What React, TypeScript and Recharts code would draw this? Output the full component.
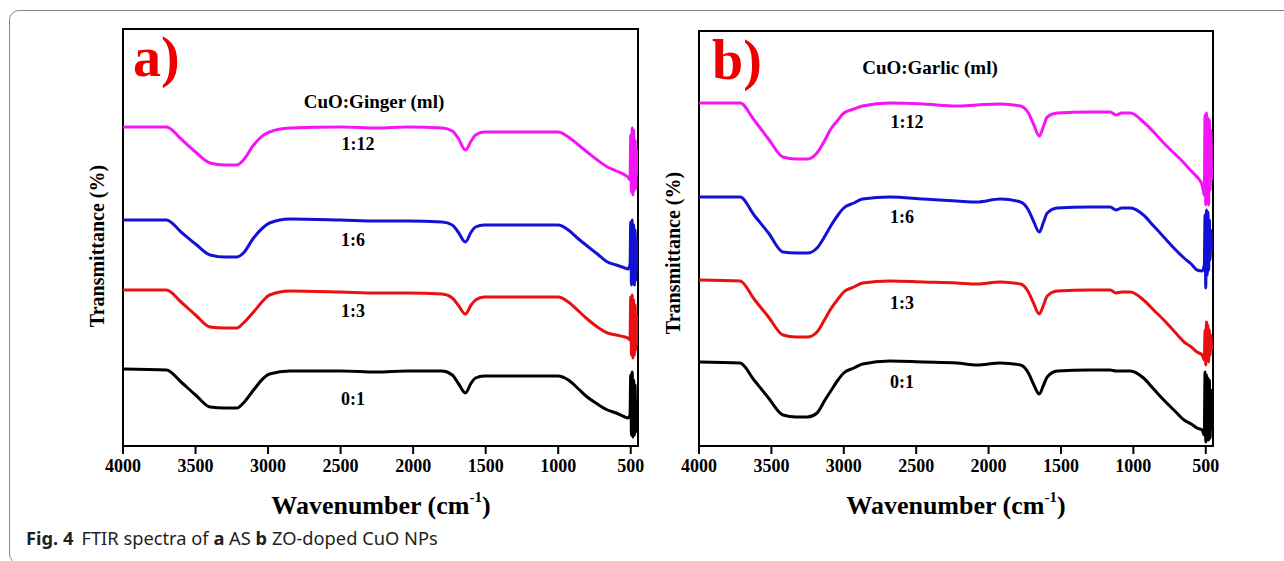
import { LineChart, Line, XAxis, YAxis, ReferenceArea } from 'recharts'

// a) CuO:Ginger — wavenumber grid (cm-1) and transmittance (arb. units, offset stacked)
const gingerWn = [4000, 3700, 3600, 3500, 3400, 3300, 3215, 3170, 3100, 3030, 2990, 2850, 2500, 2250, 2040, 1800, 1730, 1690, 1640, 1600, 1570, 1510, 1300, 1100, 1000, 930, 860, 800, 730, 660, 600, 540, 520, 505, 500, 495, 490, 485, 480, 475, 470, 465, 460, 455]
const ginger112 = [320, 320, 308, 295, 284, 282, 282, 287, 302, 312, 315, 319, 320, 319, 320, 319, 316, 309, 297, 306, 312, 315, 315, 315, 315, 310, 302, 295, 287, 280, 276, 272, 270, 267, 312, 255, 319, 252, 317, 257, 307, 259, 297, 272]
const ginger16 = [227, 227, 215, 203, 192, 190, 190, 194, 209, 220, 224, 228, 227, 226, 226, 225, 222, 215, 205, 215, 220, 222, 222, 222, 222, 217, 208, 201, 193, 185, 182, 179, 178, 182, 225, 162, 227, 164, 222, 162, 217, 167, 207, 177]
const ginger13 = [157, 157, 145, 132, 120, 119, 119, 124, 135, 147, 152, 156, 155, 154, 154, 153, 149, 142, 133, 142, 147, 150, 150, 150, 150, 145, 136, 128, 120, 114, 112, 110, 109, 107, 150, 92, 152, 89, 147, 92, 142, 97, 132, 102]
const ginger01 = [78, 77, 65, 52, 40, 39, 39, 44, 57, 69, 73, 76, 76, 75, 76, 76, 72, 64, 54, 64, 69, 71, 71, 71, 71, 67, 58, 50, 43, 37, 34, 30, 29, 32, 72, 12, 75, 10, 67, 12, 62, 15, 47, 22]

// b) CuO:Garlic
const garlicWn = [4000, 3716, 3620, 3520, 3420, 3330, 3250, 3185, 3130, 3090, 3040, 3000, 2930, 2870, 2680, 2450, 2220, 2080, 1920, 1780, 1725, 1690, 1650, 1620, 1595, 1525, 1300, 1160, 1120, 1080, 1020, 930, 860, 790, 720, 650, 600, 560, 525, 510, 505, 500, 495, 490, 485, 480, 475, 470, 465, 460]
const garlic112 = [343, 343, 326, 307, 289, 287, 287, 293, 306, 317, 326, 333, 337, 340, 343, 342, 340, 341, 342, 340, 333, 322, 310, 320, 329, 333, 334, 334, 331, 333, 333, 324, 314, 303, 293, 283, 275, 269, 261, 251, 331, 241, 333, 246, 328, 241, 326, 256, 316, 266]
const garlic16 = [249, 249, 231, 213, 194, 193, 193, 198, 210, 220, 231, 238, 243, 247, 249, 247, 245, 244, 247, 244, 236, 225, 214, 224, 233, 238, 239, 239, 236, 238, 238, 231, 220, 209, 198, 188, 182, 176, 175, 181, 231, 158, 236, 171, 234, 176, 226, 186, 216, 196]
const garlic13 = [166, 165, 147, 129, 111, 109, 109, 114, 127, 137, 147, 154, 159, 163, 165, 164, 163, 162, 164, 162, 154, 143, 132, 141, 150, 155, 156, 156, 153, 154, 154, 146, 136, 126, 115, 104, 99, 94, 91, 86, 116, 81, 124, 86, 121, 84, 116, 91, 111, 96]
const garlic01 = [84, 83, 66, 48, 31, 29, 29, 33, 46, 55, 66, 73, 78, 82, 85, 84, 83, 81, 83, 81, 73, 62, 52, 61, 69, 75, 76, 76, 75, 75, 75, 68, 57, 46, 36, 26, 22, 18, 16, 11, 74, 4, 71, 6, 68, 6, 66, 8, 56, 16]

const xTicks = [4000, 3500, 3000, 2500, 2000, 1500, 1000, 500]
const xDomain: [number, number] = [450, 4000]

const toRows = (wn: number[], a: number[], b: number[], c: number[], d: number[]) =>
  wn.map((w, i) => ({ w, s112: a[i], s16: b[i], s13: c[i], s01: d[i] }))

const gingerRows = toRows(gingerWn, ginger112, ginger16, ginger13, ginger01)
const garlicRows = toRows(garlicWn, garlic112, garlic16, garlic13, garlic01)

const serif = '"Liberation Serif", "Times New Roman", serif'
const frame = { stroke: '#000', strokeWidth: 2 }

interface PanelProps {
  rows: any[]
  yDomain: [number, number]
  left: number
  width: number
  margin: { top: number; right: number; bottom: number; left: number }
}

function Panel({ rows, yDomain, left, width, margin }: PanelProps) {
  return (
    <div style={{ position: 'absolute', left, top: 0 }}>
      <LineChart width={width} height={561} data={rows} margin={margin}>
        <XAxis
          dataKey="w"
          type="number"
          domain={xDomain}
          reversed
          allowDataOverflow
          ticks={xTicks}
          interval={0}
          tick={{ fontFamily: serif, fontWeight: 700, fontSize: 18, fill: '#000' }}
          tickSize={8}
          tickMargin={5}
          tickLine={frame}
          axisLine={frame}
          height={30}
        />
        <YAxis type="number" domain={yDomain} allowDataOverflow tick={false} tickLine={false} axisLine={frame} width={0} />
        <ReferenceArea x1={xDomain[0]} x2={xDomain[1]} y1={yDomain[0]} y2={yDomain[1]}
          fill="none" fillOpacity={0} stroke="#000" strokeWidth={2} ifOverflow="visible" />
        <Line type="monotone" dataKey="s112" stroke="#f514f5" strokeWidth={3} dot={false} isAnimationActive={false} />
        <Line type="monotone" dataKey="s16" stroke="#1212d6" strokeWidth={3} dot={false} isAnimationActive={false} />
        <Line type="monotone" dataKey="s13" stroke="#e81010" strokeWidth={3} dot={false} isAnimationActive={false} />
        <Line type="monotone" dataKey="s01" stroke="#000" strokeWidth={3} dot={false} isAnimationActive={false} />
      </LineChart>
    </div>
  )
}

function XTitle({ cx }: { cx: number }) {
  return (
    <text x={cx} y={514} textAnchor="middle" fontFamily={serif} fontWeight={700} fontSize={26} fill="#000">
      Wavenumber (cm<tspan fontSize={15} dy={-12}>-1</tspan><tspan dy={12}>)</tspan>
    </text>
  )
}

function YTitle({ cx, cy }: { cx: number; cy: number }) {
  return (
    <text x={cx} y={cy} transform={`rotate(-90 ${cx} ${cy})`} textAnchor="middle" dominantBaseline="central"
      fontFamily={serif} fontWeight={700} fontSize={20} fill="#000">
      Transmittance (%)
    </text>
  )
}

const lbl = { fontFamily: serif, fontWeight: 700, fontSize: 18, fill: '#000', textAnchor: 'middle' as const }

export default function App() {
  return (
    <div style={{ position: 'absolute', left: 0, top: 0, width: 1284, height: 561, overflow: 'hidden', background: '#fff' }}>
      <div style={{ position: 'absolute', left: 9, top: 10, width: 1300, height: 552, border: '1.5px solid #8a8a8a', borderRadius: 10 }} />
      <Panel rows={gingerRows} yDomain={[1, 418]} left={0} width={660} margin={{ top: 29, right: 22, bottom: 85, left: 123 }} />
      <Panel rows={garlicRows} yDomain={[0, 415]} left={660} width={624} margin={{ top: 31, right: 71, bottom: 85, left: 39 }} />
      <svg width={1284} height={561} style={{ position: 'absolute', left: 0, top: 0, pointerEvents: 'none' }}>
        <text x={133} y={76} fontFamily={serif} fontWeight={700} fontSize={56} fill="#ee0000">a)</text>
        <text x={712} y={79} fontFamily={serif} fontWeight={700} fontSize={56} fill="#ee0000">b)</text>
        <text x={374} y={108} {...lbl} fontSize={19}>CuO:Ginger (ml)</text>
        <text x={930} y={74} {...lbl} fontSize={19}>CuO:Garlic (ml)</text>
        <text x={358} y={150} {...lbl}>1:12</text>
        <text x={353} y={246} {...lbl}>1:6</text>
        <text x={353} y={317} {...lbl}>1:3</text>
        <text x={353} y={405} {...lbl}>0:1</text>
        <text x={907} y={128} {...lbl}>1:12</text>
        <text x={902} y={223} {...lbl}>1:6</text>
        <text x={902} y={309} {...lbl}>1:3</text>
        <text x={902} y={388} {...lbl}>0:1</text>
        <XTitle cx={381} />
        <XTitle cx={956} />
        <YTitle cx={97} cy={246} />
        <YTitle cx={673} cy={253} />
        <text x={26} y={545} fontFamily='"Noto Sans", sans-serif' fontSize={18.3} fill="#231f20">
          <tspan fontWeight={700}>Fig. 4</tspan>
          <tspan dx={8}>FTIR spectra of </tspan>
          <tspan fontWeight={700}>a</tspan>
          <tspan> AS </tspan>
          <tspan fontWeight={700}>b</tspan>
          <tspan> ZO-doped CuO NPs</tspan>
        </text>
      </svg>
    </div>
  )
}
